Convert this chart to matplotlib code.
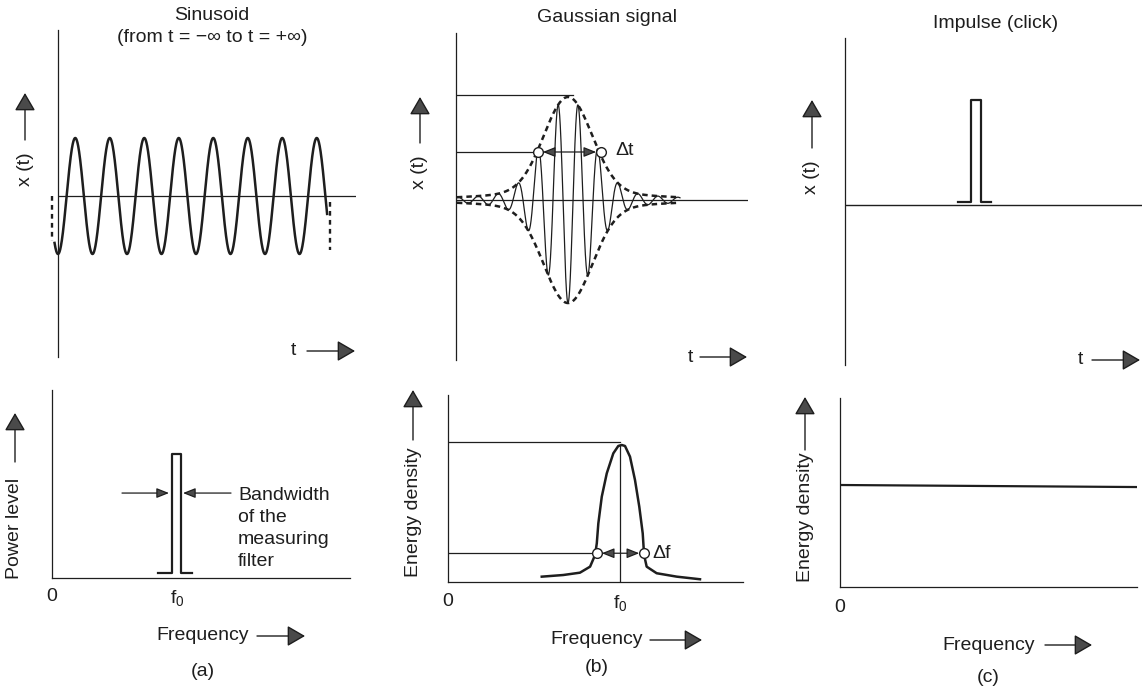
import numpy as np
import matplotlib
matplotlib.use("Agg")
import matplotlib.pyplot as plt
from matplotlib.patches import FancyArrowPatch

plt.rcParams['font.family'] = ['Liberation Sans', 'DejaVu Sans']
plt.rcParams['mathtext.default'] = 'regular'

# ---------------- data ----------------
titles = ["Sinusoid", "Gaussian signal", "Impulse (click)"]
subtitle_a = "(from t = \u2212\u221e to t = +\u221e)"
panel_labels = ["(a)", "(b)", "(c)"]
top_ylabel = "x (t)"
bottom_ylabels = ["Power level", "Energy density", "Energy density"]
freq_label = "Frequency"
tick_labels_ab = ["0", r"$\mathregular{f_0}$"]
tick_labels_c = ["0"]

# (a) sinusoid: t in periods
sin_cycles_start = -0.10
sin_cycles_end = 7.80
sin_amplitude = 1.0
sin_dash_left_t = -0.17
sin_dash_left_y = [0.0, -0.78]
sin_dash_right_t = 7.88
sin_dash_right_y = [-0.10, -0.93]

# (a) bottom: power spectrum of the filter (f0 = 1)
pulse_a_f = [0.848, 0.96, 0.96, 1.032, 1.032, 1.12]
pulse_a_p = [0.04, 0.04, 1.0, 1.0, 0.04, 0.04]
bw_level = 0.685
bw_left_arrow = [0.56, 0.936]
bw_right_arrow = [1.432, 1.048]
bw_text = "Bandwidth\nof the\nmeasuring\nfilter"

# (b) Gaussian signal
gs_center = 3.836
gs_period = 0.685
gs_amp_main, gs_sigma_main = 0.93, 0.822
gs_amp_tail, gs_sigma_tail = 0.07, 2.74
gs_t_range = [0.03, 7.67]
gs_peak_line = [0.0, 4.0, 1.02]
gs_half_level = 0.466
gs_markers_t = [2.808, 4.966]
gs_dt_text = (5.445, 0.485)

# (b) bottom: energy density spectrum (f0 = 1)
spec_f = [0.545, 0.670, 0.767, 0.826, 0.855, 0.865, 0.874, 0.894, 0.923, 0.961,
          0.990, 1.010, 1.029, 1.058, 1.087, 1.112, 1.132, 1.140, 1.155, 1.213,
          1.330, 1.465]
spec_e = [0.039, 0.051, 0.068, 0.112, 0.197, 0.282, 0.428, 0.623, 0.793, 0.939,
          0.993, 1.000, 0.993, 0.915, 0.745, 0.550, 0.355, 0.197, 0.112, 0.064,
          0.039, 0.020]
spec_peak_level = 1.02
spec_f0 = 1.0
spec_half_level = 0.21
spec_markers_f = [0.866, 1.14]
spec_df_text = (1.186, 0.21)

# (c) impulse
imp_t = [3.80, 4.24, 4.24, 4.58, 4.58, 4.92]
imp_x = [0.03, 0.03, 1.0, 1.0, 0.03, 0.03]
flat_f = [0.0, 1.0]
flat_e = [1.0, 0.98]

# ---------------- layout helpers ----------------
W, H = 1148, 690
fig = plt.figure(figsize=(W / 100, H / 100), dpi=100)
INK = '#1e1e1e'
HEAD = '#4a4a4a'
FS = 14


def box(l, t, r, b):
    return [l / W, 1 - b / H, (r - l) / W, (b - t) / H]


def fp(x, y):
    return (x / W, 1 - y / H)


def ftext(x, y, s, **kw):
    kw.setdefault('fontsize', FS)
    kw.setdefault('color', INK)
    kw.setdefault('ha', 'center')
    kw.setdefault('va', 'center')
    fig.text(*fp(x, y), s, **kw)


def farrow(x0, y0, x1, y1, ms=20, hl=0.55, hw=0.32, lw=1.0):
    a = FancyArrowPatch(fp(x0, y0), fp(x1, y1), transform=fig.transFigure,
                        arrowstyle=f'-|>,head_length={hl},head_width={hw}',
                        mutation_scale=ms, lw=lw, ec=INK, fc=HEAD,
                        shrinkA=0, shrinkB=0)
    fig.add_artist(a)


def style_axes(ax, bottom=True):
    for s in ['top', 'right']:
        ax.spines[s].set_visible(False)
    ax.spines['bottom'].set_visible(bottom)
    for s in ['left', 'bottom']:
        ax.spines[s].set_linewidth(0.9)
        ax.spines[s].set_color(INK)
    ax.tick_params(length=0, labelsize=FS, labelcolor=INK)
    ax.set_yticks([])
    ax.set_facecolor('none')


def small_arrow(ax, x0, y0, x1, y1, style='-|>', shrink=0):
    ax.annotate('', xy=(x1, y1), xytext=(x0, y0),
                arrowprops=dict(arrowstyle=f'{style},head_length=0.75,head_width=0.3',
                                mutation_scale=10, lw=0.9, ec=INK, fc=HEAD,
                                shrinkA=shrink, shrinkB=shrink),
                annotation_clip=False)


# ---------------- (a) top: sinusoid ----------------
ax = fig.add_axes(box(58, 30, 356, 357))
style_axes(ax, bottom=False)
ax.set_xticks([])
ax.set_xlim(0, 298 / 34.5)
ax.set_ylim(-2.776, 2.862)
ax.axhline(0, color=INK, lw=0.9)
t = np.linspace(sin_cycles_start, sin_cycles_end, 3000)
ax.plot(t, -sin_amplitude * np.cos(2 * np.pi * t), color=INK, lw=1.8, clip_on=False)
ax.plot([sin_dash_left_t] * 2, sin_dash_left_y, color=INK, lw=1.7, ls=(0, (2, 1.8)), clip_on=False)
ax.plot([sin_dash_right_t] * 2, sin_dash_right_y, color=INK, lw=1.7, ls=(0, (2, 1.8)), clip_on=False)

# ---------------- (b) top: Gaussian signal ----------------
ax = fig.add_axes(box(456, 33, 748, 360))
style_axes(ax, bottom=False)
ax.set_xticks([])
ax.set_xlim(0, 10)
ax.set_ylim(-1.553, 1.621)
ax.axhline(0, color=INK, lw=0.9)
tg = np.linspace(gs_t_range[0], gs_t_range[1], 3000)
d = tg - gs_center
env = gs_amp_main * np.exp(-d ** 2 / (2 * gs_sigma_main ** 2)) + \
    gs_amp_tail * np.exp(-d ** 2 / (2 * gs_sigma_tail ** 2))
ax.plot(tg, -env * np.cos(2 * np.pi * d / gs_period), color=INK, lw=0.9)
ax.plot(tg, env, color=INK, lw=1.8, ls=(0, (2.2, 1.6)))
ax.plot(tg, -env, color=INK, lw=1.8, ls=(0, (2.2, 1.6)))
ax.plot(gs_peak_line[:2], [gs_peak_line[2]] * 2, color=INK, lw=0.9)
ax.plot([0, gs_markers_t[0]], [gs_half_level] * 2, color=INK, lw=0.9)
small_arrow(ax, gs_markers_t[0], gs_half_level, gs_markers_t[1], gs_half_level,
            style='<|-|>', shrink=3.5)
ax.plot(gs_markers_t, [gs_half_level] * 2, 'o', ms=7, mfc='white', mec=INK, mew=1.0, zorder=5)
ax.text(*gs_dt_text, "\u0394t", fontsize=FS, color=INK, ha='left', va='center')

# ---------------- (c) top: impulse ----------------
ax = fig.add_axes(box(845, 38, 1142, 365))
style_axes(ax, bottom=False)
ax.set_xticks([])
ax.set_xlim(0, 10)
ax.set_ylim(-1.52, 1.59)
ax.axhline(0, color=INK, lw=1.0)
ax.plot(imp_t, imp_x, color=INK, lw=1.6)

# ---------------- (a) bottom ----------------
ax = fig.add_axes(box(52, 390, 350, 578))
style_axes(ax)
ax.set_xlim(0, 2.384)
ax.set_ylim(0, 1.516)
ax.set_xticks([0, 1.0], tick_labels_ab)
ax.tick_params(axis='x', pad=7)
ax.plot(pulse_a_f, pulse_a_p, color=INK, lw=1.6)
small_arrow(ax, bw_left_arrow[0], bw_level, bw_left_arrow[1], bw_level)
small_arrow(ax, bw_right_arrow[0], bw_level, bw_right_arrow[1], bw_level)
ftext(238, 487, bw_text, ha='left', va='top', linespacing=1.38)

# ---------------- (b) bottom ----------------
ax = fig.add_axes(box(448, 395, 743, 582))
style_axes(ax)
ax.set_xlim(0, 1.715)
ax.set_ylim(0, 1.365)
ax.set_xticks([0, spec_f0], tick_labels_ab)
ax.tick_params(axis='x', pad=8)
ax.plot(spec_f, spec_e, color=INK, lw=1.8, solid_joinstyle='round')
ax.plot([0, spec_f0], [spec_peak_level] * 2, color=INK, lw=0.9)
ax.plot([spec_f0, spec_f0], [0, 1.0], color=INK, lw=0.9)
ax.plot([0, spec_markers_f[0]], [spec_half_level] * 2, color=INK, lw=0.9)
small_arrow(ax, spec_markers_f[0], spec_half_level, spec_markers_f[1], spec_half_level,
            style='<|-|>', shrink=3.5)
ax.plot(spec_markers_f, [spec_half_level] * 2, 'o', ms=7, mfc='white', mec=INK, mew=1.0, zorder=5)
ax.text(*spec_df_text, "\u0394f", fontsize=FS, color=INK, ha='left', va='center')

# ---------------- (c) bottom ----------------
ax = fig.add_axes(box(840, 398, 1137, 587))
style_axes(ax)
ax.set_xlim(0, 1)
ax.set_ylim(0, 1.853)
ax.set_xticks([0], tick_labels_c)
ax.tick_params(axis='x', pad=9)
ax.plot(flat_f, flat_e, color=INK, lw=1.6)

# ---------------- titles, labels and arrows ----------------
ftext(212, 15, titles[0])
ftext(212, 38, subtitle_a)
ftext(607, 18, titles[1])
ftext(996, 24, titles[2])

for (x, yc, y0, y1) in [(25, 169, 140, 93), (420, 172, 143, 97), (812, 177, 148, 100)]:
    ftext(x, yc, top_ylabel, rotation=90)
    farrow(x, y0, x, y1)

for (xt, y, x0, x1) in [(293, 351, 307, 355), (690, 357, 700, 747), (1080, 360, 1092, 1140)]:
    ftext(xt, y, "t")
    farrow(x0, y, x1, y)

for (x, yc, y0, y1, s) in [(15, 528, 462, 413, bottom_ylabels[0]),
                           (413, 512, 440, 390, bottom_ylabels[1]),
                           (805, 517, 450, 397, bottom_ylabels[2])]:
    ftext(x, yc, s, rotation=90)
    farrow(x, y0, x, y1)

for (xc, y, x0, x1) in [(203, 636, 257, 305), (597, 640, 650, 702), (989, 645, 1045, 1092)]:
    ftext(xc, y, freq_label)
    farrow(x0, y, x1, y)

ftext(203, 672, panel_labels[0])
ftext(597, 667, panel_labels[1])
ftext(988, 677, panel_labels[2])

fig.savefig("out.png", dpi=100, facecolor='white')
